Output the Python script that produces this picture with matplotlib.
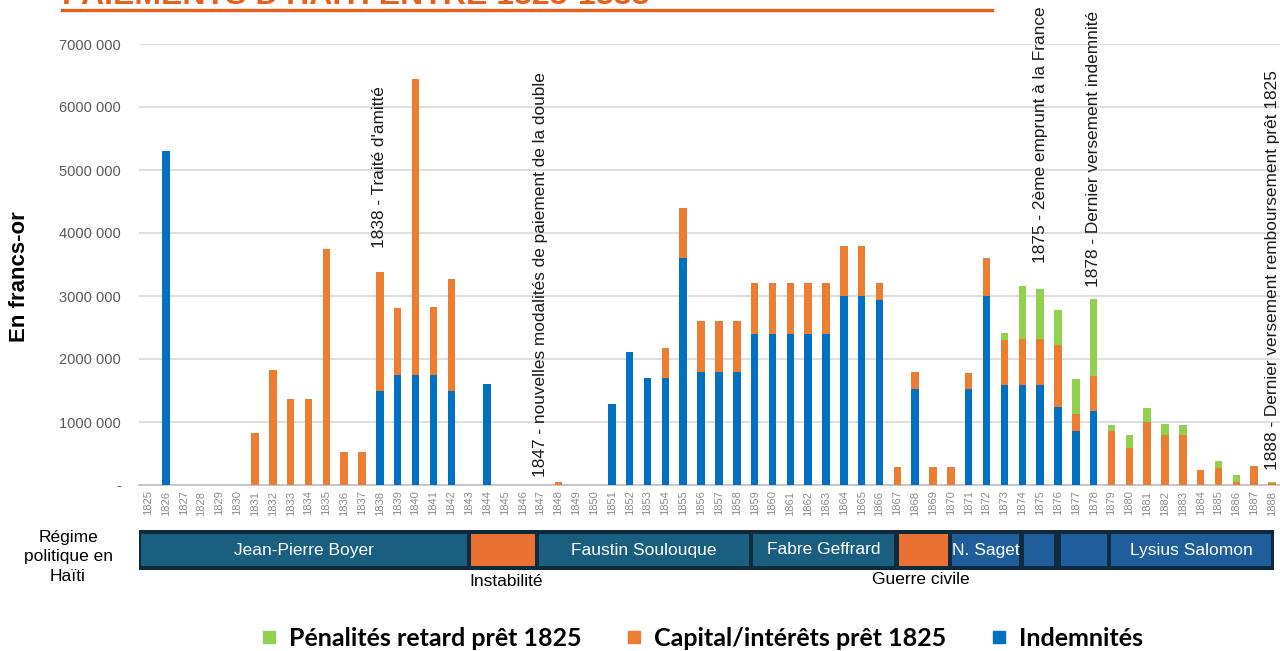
import matplotlib
matplotlib.use("Agg")
import matplotlib.pyplot as plt
from matplotlib.patches import Rectangle
from matplotlib.lines import Line2D
import numpy as np

years = list(range(1825, 1889))
indemnites = [0, 5.30, 0, 0, 0, 0, 0, 0, 0, 0,
              0, 0, 0, 1.50, 1.75, 1.75, 1.75, 1.50, 0, 1.60,
              0, 0, 0, 0, 0, 0, 1.29, 2.11, 1.70, 1.70,
              3.60, 1.80, 1.80, 1.80, 2.40, 2.40, 2.40, 2.40, 2.40, 3.00,
              3.00, 2.93, 0, 1.53, 0, 0, 1.53, 3.00, 1.59, 1.59,
              1.59, 1.24, 0.86, 1.17, 0, 0, 0, 0, 0, 0,
              0, 0, 0, 0]
capital = [0, 0, 0, 0, 0, 0, 0.83, 1.83, 1.36, 1.36,
           3.75, 0.52, 0.52, 1.88, 1.06, 4.69, 1.08, 1.77, 0, 0,
           0, 0, 0, 0.05, 0, 0, 0, 0, 0, 0.47,
           0.80, 0.80, 0.80, 0.80, 0.80, 0.80, 0.80, 0.80, 0.80, 0.80,
           0.80, 0.27, 0.28, 0.27, 0.28, 0.28, 0.24, 0.60, 0.71, 0.73,
           0.73, 0.99, 0.26, 0.56, 0.85, 0.59, 1.00, 0.79, 0.79, 0.24,
           0.275, 0.04, 0.30, 0.03]
penalites = [0] * 48 + [0.12, 0.84, 0.79, 0.55, 0.56, 1.22, 0.10, 0.20, 0.22, 0.18,
                        0.16, 0, 0.10, 0.12, 0, 0.02]

y_ticks = [0, 1, 2, 3, 4, 5, 6, 7]
y_tick_labels = ["-", "1000 000", "2000 000", "3000 000", "4000 000",
                 "5000 000", "6000 000", "7000 000"]

annotations = [(1838, 3.76, "1838 - Traité d'amitté"),
               (1847, 0.12, "1847 - nouvelles modalités de paiement de la double"),
               (1875, 3.52, "1875 - 2ème emprunt à la France"),
               (1878, 3.14, "1878 - Dernier versement indemnité"),
               (1888, 0.24, "1888 - Dernier versement remboursement prêt 1825")]

regimes = [(1824.5, 1843.0, "Jean-Pierre Boyer", "#1a5f80"),
           (1843.0, 1846.8, "", "#e97132"),
           (1846.8, 1858.8, "Faustin Soulouque", "#1a5f80"),
           (1858.8, 1866.95, "Fabre Geffrard", "#1a5f80"),
           (1866.95, 1869.95, "", "#e97132"),
           (1869.95, 1873.95, "N. Saget", "#205e9b"),
           (1873.95, 1875.9, "", "#205e9b"),
           (1876.05, 1878.85, "", "#205e9b"),
           (1878.85, 1888.05, "Lysius Salomon", "#205e9b")]

C_BLUE = "#0070c0"
C_ORANGE = "#ed7d31"
C_GREEN = "#92d050"
FONT = "Liberation Sans"

W, H = 1280, 651
fig = plt.figure(figsize=(W / 100, H / 100), dpi=100)

ax_left = 139 / W
ax_w = (1281 - 139) / W
ax = fig.add_axes([ax_left, (H - 485) / H, ax_w, (485 - 44) / H])

x = np.arange(len(years))
ind = np.array(indemnites) * 1e6
cap = np.array(capital) * 1e6
pen = np.array(penalites) * 1e6
bw = 0.42
ax.bar(x, ind, bw, color=C_BLUE, zorder=3)
ax.bar(x, cap, bw, bottom=ind, color=C_ORANGE, zorder=3)
ax.bar(x, pen, bw, bottom=ind + cap, color=C_GREEN, zorder=3)

ax.set_xlim(-0.5, len(years) - 0.5)
ax.set_ylim(0, 7e6)
ax.set_yticks([v * 1e6 for v in y_ticks])
ax.set_yticklabels(y_tick_labels, fontsize=10.5, color="#595959", family=FONT)
ax.set_xticks(x)
ax.set_xticklabels([str(y) for y in years], rotation=90, fontsize=8,
                   color="#8c8c8c", family=FONT)
ax.tick_params(axis="both", length=0)
ax.tick_params(axis="y", pad=13)
ax.tick_params(axis="x", pad=4)
ax.grid(axis="y", color="#d9d9d9", lw=1.2, zorder=0)
for s in ["top", "right", "left"]:
    ax.spines[s].set_visible(False)
ax.spines["bottom"].set_color("#bfbfbf")
ax.spines["bottom"].set_linewidth(1.2)

fig.text(20 / W, 1 - 277 / H, "En francs-or", rotation=90, ha="center", va="center",
         fontsize=16, fontweight="bold", family=FONT)

for yr, yv, txt in annotations:
    ax.text(years.index(yr), yv * 1e6, txt, rotation=90, ha="center", va="bottom",
            fontsize=12.4, family=FONT, color="#1a1a1a", clip_on=False, zorder=5)

# Regime strip
rax = fig.add_axes([ax_left, (H - 570) / H, ax_w, 40 / H])
rax.set_xlim(-0.5, len(years) - 0.5)
rax.set_ylim(0, 1)
rax.axis("off")
rax.add_patch(Rectangle((-0.55, 0), 63.65, 1, facecolor="#0e2b3e", edgecolor="none"))
for a, b, lab, col in regimes:
    a_i = a - 1825
    b_i = b - 1825
    rax.add_patch(Rectangle((a_i + 0.12, 0.1), (b_i - a_i) - 0.24, 0.8,
                            facecolor=col, edgecolor="none"))
    if lab:
        rax.text((a_i + b_i) / 2, 0.5, lab, ha="center", va="center", color="white",
                 fontsize=12.5, family=FONT)

fig.text(68 / W, 1 - 557 / H, "Régime\npolitique en\nHaïti", ha="center", va="center",
         fontsize=12.5, linespacing=1.4, family=FONT)
fig.text(506 / W, 1 - 581 / H, "Instabilité", ha="center", va="center",
         fontsize=12.5, family=FONT)
fig.text(921 / W, 1 - 580 / H, "Guerre civile", ha="center", va="center",
         fontsize=12.5, family=FONT)

# Title (clipped at top, as in the reference) and underline
fig.text(62 / W, 1 - 4 / H, "PAIEMENTS D'HAÏTI ENTRE 1825-1888", ha="left", va="baseline",
         fontsize=23, fontweight="bold", color="#e8601c", family=FONT)
fig.add_artist(Line2D([62 / W, 992 / W], [1 - 10 / H, 1 - 10 / H], color="#e8601c", lw=2.4,
                      transform=fig.transFigure))

# Legend
handles = [Line2D([], [], marker="s", ls="none", color=c, markersize=9)
           for c in (C_GREEN, C_ORANGE, C_BLUE)]
labels = ["Pénalités retard prêt 1825", "Capital/intérêts prêt 1825", "Indemnités"]
fig.legend(handles, labels, loc="center", bbox_to_anchor=(701 / W, 1 - 638 / H), ncol=3,
           frameon=False, handletextpad=0.4, handlelength=0.8, columnspacing=1.7,
           prop={"family": "Lato", "weight": "bold", "size": 18})

fig.savefig("out.png", dpi=100)
